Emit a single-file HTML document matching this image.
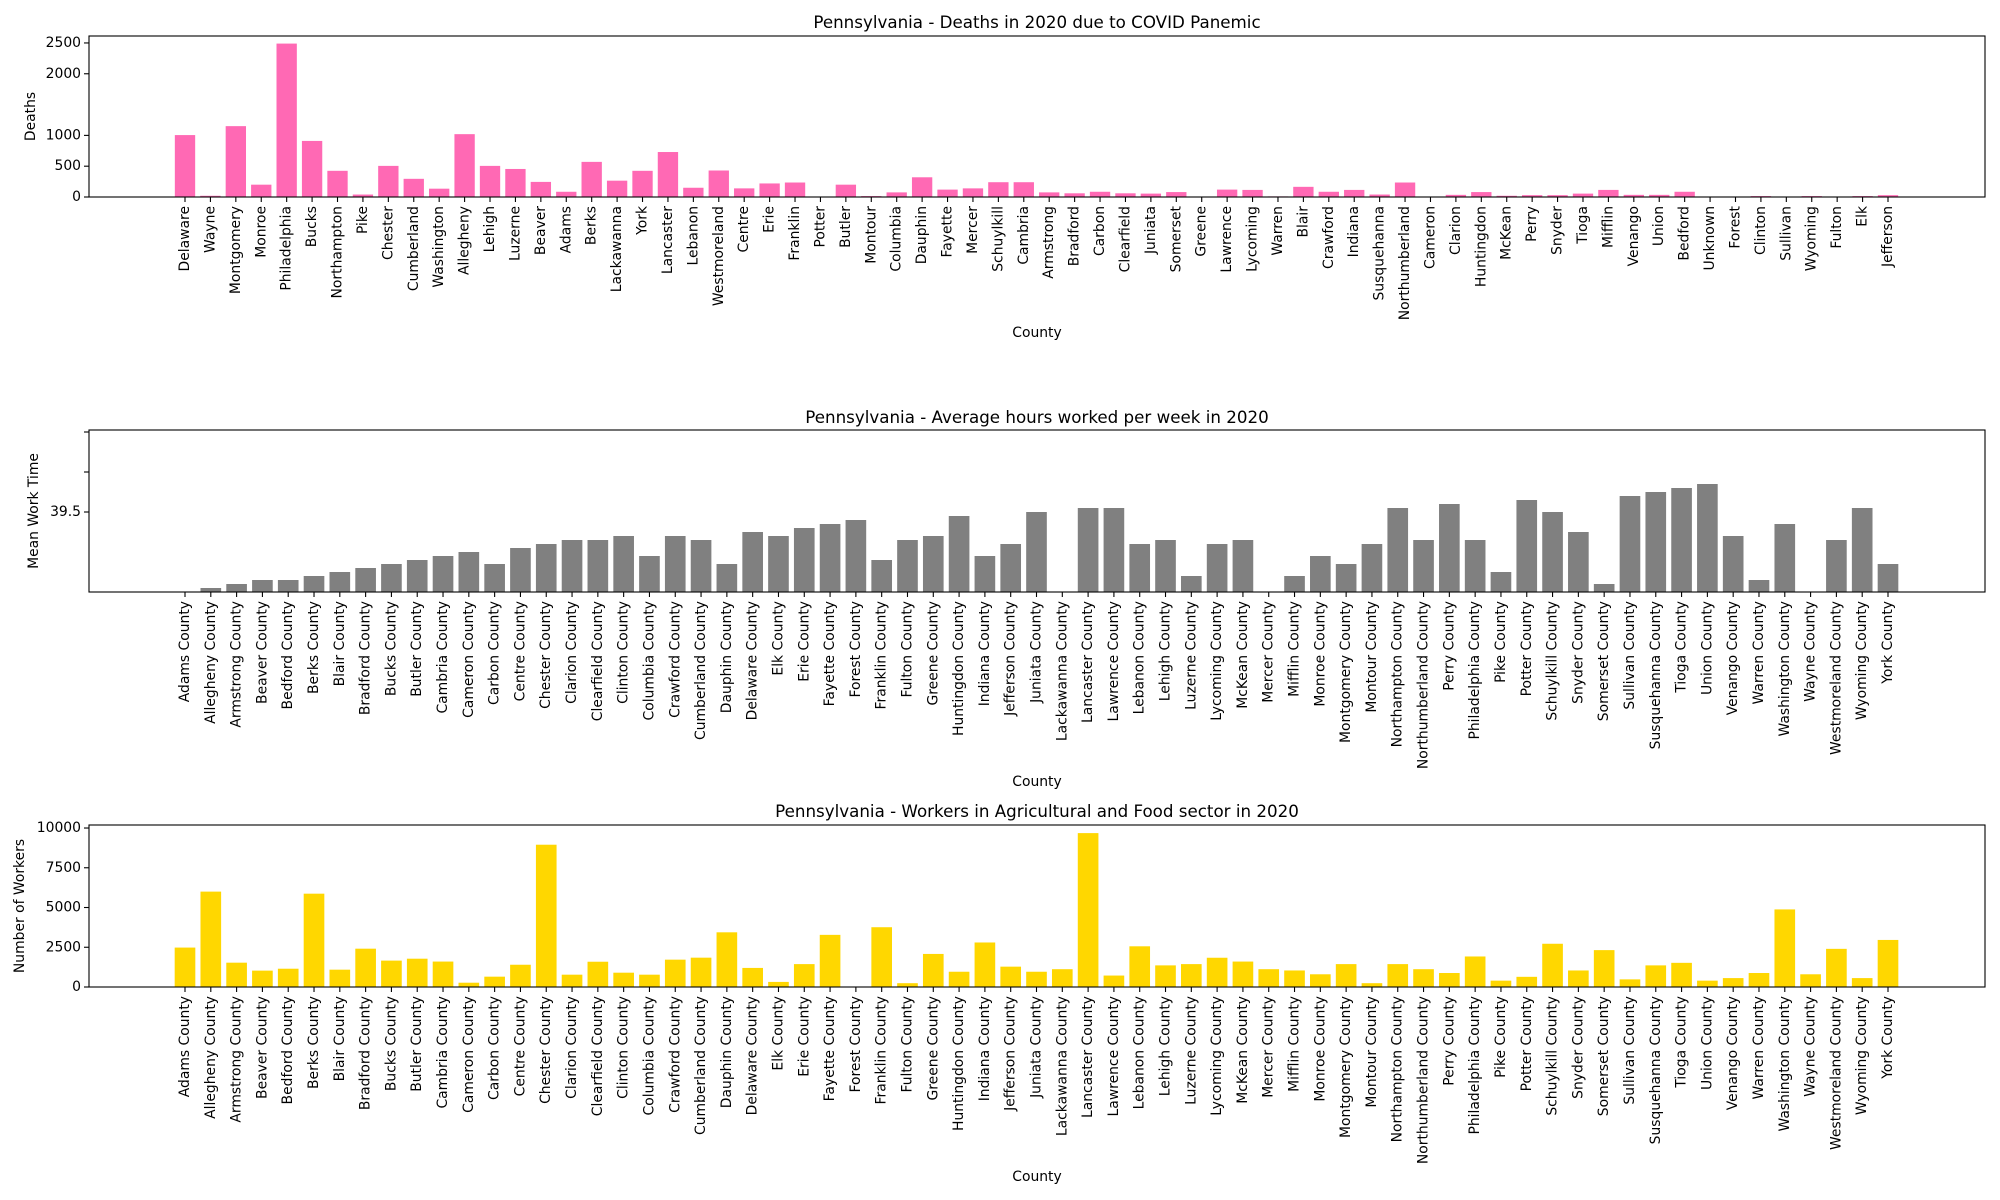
<!DOCTYPE html>
<html><head><meta charset="utf-8"><style>
html,body{margin:0;padding:0;background:#fff;}
svg{display:block;font-family:"DejaVu Sans","Liberation Sans",sans-serif;}
</style></head><body>
<svg id="fig" width="2000" height="1200" viewBox="0 0 2000 1200" xmlns="http://www.w3.org/2000/svg"></svg>
<script>
const deathCounties=["Delaware","Wayne","Montgomery","Monroe","Philadelphia","Bucks","Northampton","Pike","Chester","Cumberland","Washington","Allegheny","Lehigh","Luzerne","Beaver","Adams","Berks","Lackawanna","York","Lancaster","Lebanon","Westmoreland","Centre","Erie","Franklin","Potter","Butler","Montour","Columbia","Dauphin","Fayette","Mercer","Schuylkill","Cambria","Armstrong","Bradford","Carbon","Clearfield","Juniata","Somerset","Greene","Lawrence","Lycoming","Warren","Blair","Crawford","Indiana","Susquehanna","Northumberland","Cameron","Clarion","Huntingdon","McKean","Perry","Snyder","Tioga","Mifflin","Venango","Union","Bedford","Unknown","Forest","Clinton","Sullivan","Wyoming","Fulton","Elk","Jefferson"];
const deaths=[1005,20,1150,200,2490,910,425,40,505,295,135,1020,505,455,245,85,570,265,425,730,150,430,140,220,235,5,200,15,75,320,120,140,240,240,75,60,85,60,55,80,5,120,115,10,165,85,115,40,235,0,35,80,20,30,30,55,115,35,35,85,0,0,15,5,15,5,15,30];
const deathTicks=[0,500,1000,2000,2500];
const paCounties=["Adams","Allegheny","Armstrong","Beaver","Bedford","Berks","Blair","Bradford","Bucks","Butler","Cambria","Cameron","Carbon","Centre","Chester","Clarion","Clearfield","Clinton","Columbia","Crawford","Cumberland","Dauphin","Delaware","Elk","Erie","Fayette","Forest","Franklin","Fulton","Greene","Huntingdon","Indiana","Jefferson","Juniata","Lackawanna","Lancaster","Lawrence","Lebanon","Lehigh","Luzerne","Lycoming","McKean","Mercer","Mifflin","Monroe","Montgomery","Montour","Northampton","Northumberland","Perry","Philadelphia","Pike","Potter","Schuylkill","Snyder","Somerset","Sullivan","Susquehanna","Tioga","Union","Venango","Warren","Washington","Wayne","Westmoreland","Wyoming","York"].map(c=>c+" County");
const workHours=[39.30,39.31,39.32,39.33,39.33,39.34,39.35,39.36,39.37,39.38,39.39,39.40,39.37,39.41,39.42,39.43,39.43,39.44,39.39,39.44,39.43,39.37,39.45,39.44,39.46,39.47,39.48,39.38,39.43,39.44,39.49,39.39,39.42,39.50,39.30,39.51,39.51,39.42,39.43,39.34,39.42,39.43,39.30,39.34,39.39,39.37,39.42,39.51,39.43,39.52,39.43,39.35,39.53,39.50,39.45,39.32,39.54,39.55,39.56,39.57,39.44,39.33,39.47,39.30,39.43,39.51,39.37];
const hourTicks=[39.5,39.6,39.7];
const hourTickLabels=["39.5","",""];
const workers=[2480,6000,1530,1030,1150,5870,1090,2410,1660,1780,1600,270,650,1400,8950,775,1590,900,775,1720,1845,3440,1200,320,1440,3280,0,3760,240,2080,960,2800,1280,960,1120,9680,720,2560,1360,1440,1840,1600,1120,1040,800,1440,240,1440,1120,880,1920,400,640,2720,1040,2320,480,1360,1520,400,560,880,4880,800,2400,560,2960];
const workerTicks=[0,2500,5000,7500,10000];

const NS="http://www.w3.org/2000/svg";
const svg=document.getElementById('fig');
function mk(tag,attrs,parent){const e=document.createElementNS(NS,tag);for(const k in attrs)e.setAttribute(k,attrs[k]);(parent||svg).appendChild(e);return e;}

function drawChart(o){
  const g=mk('g',{});
  
  
  const L=89,R=1985,x0=185,x1=1888,n=o.cats.length;
  const step=(x1-x0)/(n-1);
  const xs=i=>x0+i*step;
  const ys=v=>o.bottom-(v-o.ymin)/(o.ymax-o.ymin)*(o.bottom-o.top);
  o.vals.forEach((v,i)=>{
    const y=ys(v);
    const b=mk('rect',{x:xs(i)-0.4*step,y:Math.min(y,o.bottom),width:0.8*step,height:Math.abs(o.bottom-y),fill:o.color},g);
    
    
    mk('line',{x1:xs(i),x2:xs(i),y1:o.bottom,y2:o.bottom+5,stroke:'#000','stroke-width':1.1},g);
    const t=mk('text',{x:0,y:0,'font-size':'13.9','text-anchor':'end','dominant-baseline':'central',transform:`translate(${xs(i)},${o.bottom+9}) rotate(-90)`},g);
    t.textContent=o.cats[i];
    
    
  });
  o.ticks.forEach((v,i)=>{
    const y=ys(v);
    mk('line',{x1:L-5,x2:L,y1:y,y2:y,stroke:'#000','stroke-width':1.1},g);
    const lab=o.tickLabels?o.tickLabels[i]:String(v);
    if(lab){const t=mk('text',{x:L-8,y:y,'font-size':'13.9','text-anchor':'end','dominant-baseline':'central'},g);t.textContent=lab;
    
    }
  });
  const fr=mk('rect',{x:L,y:o.top,width:R-L,height:o.bottom-o.top,fill:'none',stroke:'#000','stroke-width':1.1},g);
  
  
  const ti=mk('text',{x:(L+R)/2,y:o.titleY,'font-size':'16.7','text-anchor':'middle','dominant-baseline':'central'},g);
  ti.textContent=o.title;
  
  
  const xl=mk('text',{x:(L+R)/2,y:o.xlabY,'font-size':'13.9','text-anchor':'middle','dominant-baseline':'central'},g);
  xl.textContent='County';
  
  
  const yl=mk('text',{x:0,y:0,'font-size':'13.9','text-anchor':'middle','dominant-baseline':'central',transform:`translate(${o.ylabX},${(o.top+o.bottom)/2}) rotate(-90)`},g);
  yl.textContent=o.ylabel;
  
  
}

drawChart({name:'deaths-chart',cats:deathCounties,vals:deaths,ticks:deathTicks,ymin:0,ymax:2613,top:36,bottom:197,color:'#ff69b4',title:'Pennsylvania - Deaths in 2020 due to COVID Panemic',titleY:22,xlabY:333,ylabel:'Deaths',ylabX:31});
drawChart({name:'work-hours-chart',cats:paCounties,vals:workHours,ticks:hourTicks,tickLabels:hourTickLabels,ymin:39.30,ymax:39.705,top:430,bottom:592,color:'#808080',title:'Pennsylvania - Average hours worked per week in 2020',titleY:417,xlabY:782,ylabel:'Mean Work Time',ylabX:34});
drawChart({name:'workers-chart',cats:paCounties,vals:workers,ticks:workerTicks,ymin:0,ymax:10190,top:825,bottom:987,color:'#ffd700',title:'Pennsylvania - Workers in Agricultural and Food sector in 2020',titleY:811,xlabY:1177,ylabel:'Number of Workers',ylabX:20});
</script>
</body></html>
